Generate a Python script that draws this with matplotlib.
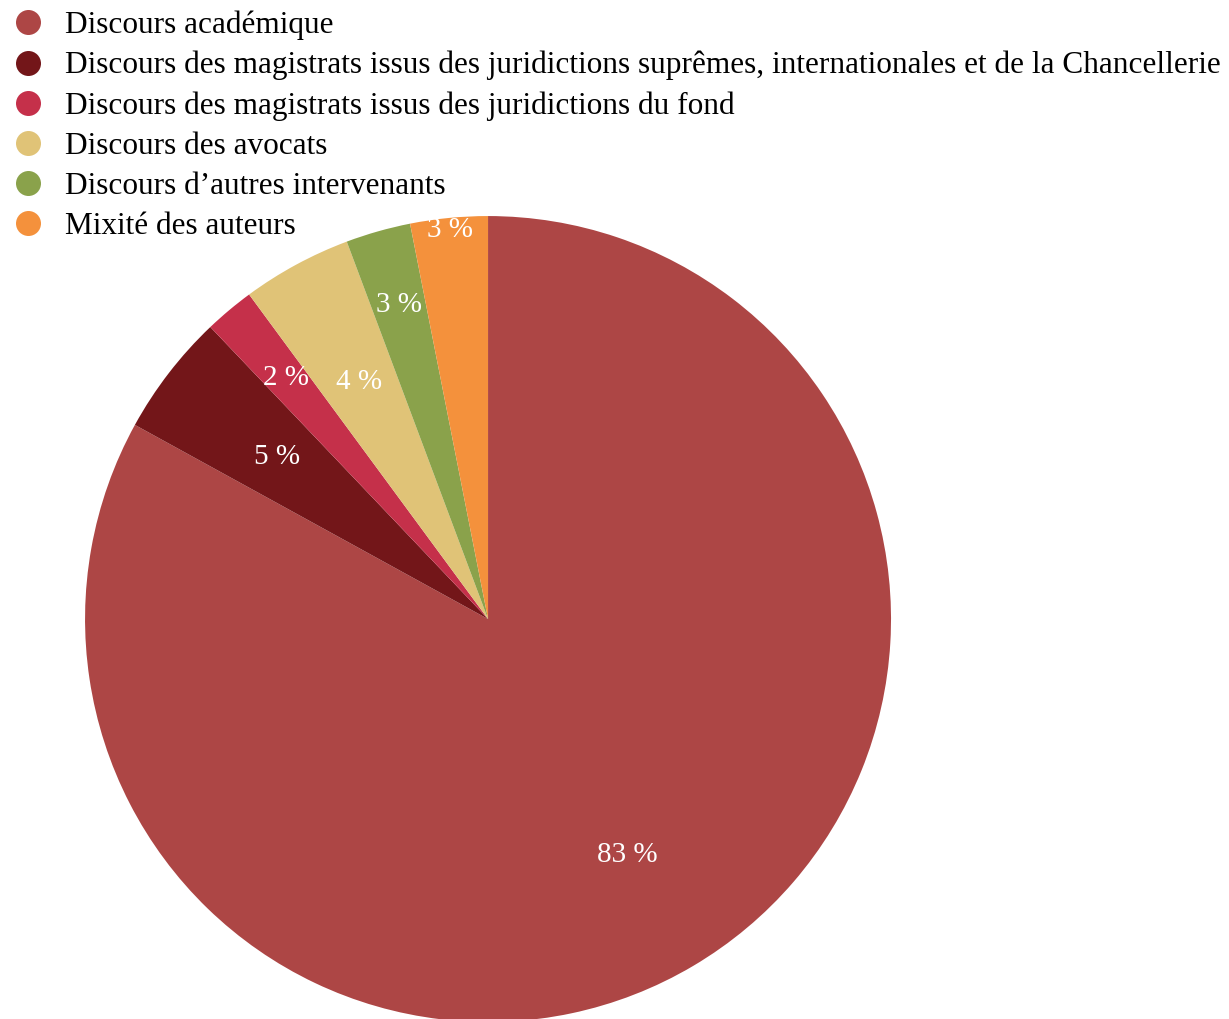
import matplotlib
matplotlib.use("Agg")
import matplotlib.pyplot as plt
from matplotlib.lines import Line2D

# Répartition des discours (en %)
categories = [
    "Discours académique",
    "Discours des magistrats issus des juridictions suprêmes, internationales et de la Chancellerie",
    "Discours des magistrats issus des juridictions du fond",
    "Discours des avocats",
    "Discours d\u2019autres intervenants",
    "Mixité des auteurs",
]
valeurs = [83.0, 4.9, 2.0, 4.4, 2.6, 3.1]
couleurs = ["#AD4645", "#731619", "#C5304A", "#E0C377", "#8AA24B", "#F4913C"]
dist_labels = [0.68, 0.66, 0.78, 0.67, 0.81, 0.97]

plt.rcParams["font.family"] = ["Liberation Serif", "DejaVu Serif"]

fig = plt.figure(figsize=(12.29, 10.19), dpi=100)
ax = fig.add_axes([0.0692, -0.003, 0.6558, 0.791])

wedges, texts, autotexts = ax.pie(
    valeurs, colors=couleurs, startangle=90, counterclock=False,
    autopct="%.0f %%", pctdistance=1.0,
    textprops=dict(color="white", fontsize=21),
    wedgeprops=dict(linewidth=0),
)
for t, d in zip(autotexts, dist_labels):
    x, y = t.get_position()
    t.set_position((x * d, y * d))

ax.set_xlim(-1, 1)
ax.set_ylim(-1, 1)
ax.set_aspect("equal")
ax.axis("off")

handles = [Line2D([], [], marker="o", linestyle="", markersize=18,
                  markerfacecolor=c, markeredgewidth=0) for c in couleurs]
fig.legend(handles, categories, loc="upper left", bbox_to_anchor=(0.0, 1.005),
           frameon=False, fontsize=22.5, handletextpad=0.78, labelspacing=0.35,
           borderaxespad=0.3, handlelength=0.8, borderpad=0.2)

fig.savefig("out.png", dpi=100)
